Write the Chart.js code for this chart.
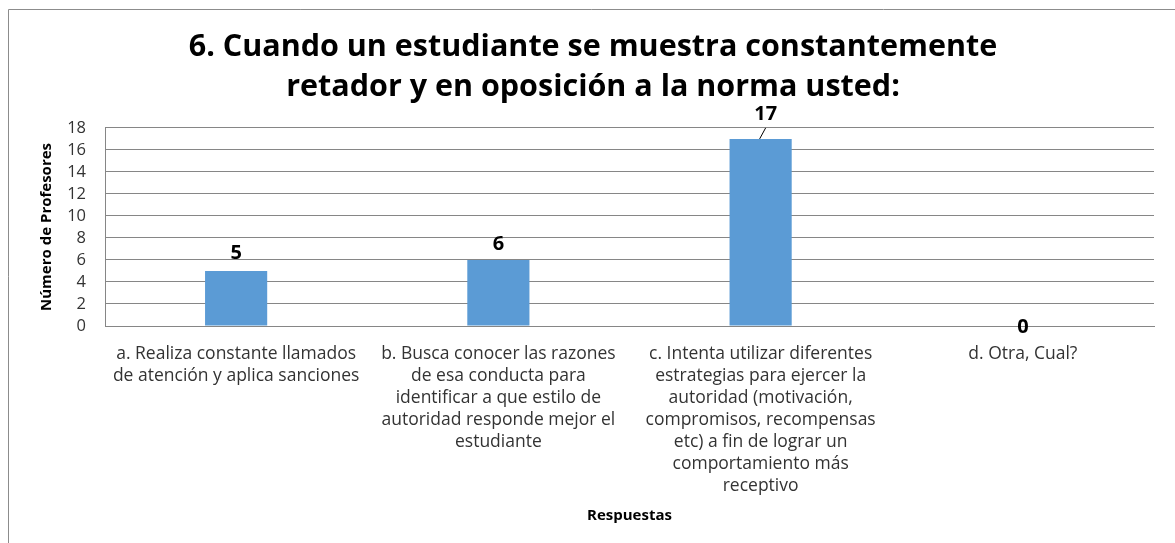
<!DOCTYPE html>
<html>
<head>
<meta charset="utf-8">
<script src="https://cdn.jsdelivr.net/npm/chart.js@4.4.1/dist/chart.umd.min.js"></script>
<style>
  html, body { margin: 0; padding: 0; background: #fff; }
  #wrap { width: 1175px; height: 543px; }
</style>
</head>
<body>
<div id="wrap"><canvas id="chart" width="1175" height="543"></canvas></div>
<script>
// data
const categories = [
    ["a. Realiza constante llamados", "de atención y aplica sanciones"],
    ["b. Busca conocer las razones", "de esa conducta para", "identificar a que estilo de", "autoridad responde mejor el", "estudiante"],
    ["c. Intenta utilizar diferentes", "estrategias para ejercer la", "autoridad (motivación,", "compromisos, recompensas", "etc) a fin de lograr un", "comportamiento más", "receptivo"],
    ["d. Otra, Cual?"],
];
const profesores = [5, 6, 17, 0];
const yTicks = [0, 2, 4, 6, 8, 10, 12, 14, 16, 18];

const titleLines = ["6. Cuando un estudiante se muestra constantemente", "retador y en oposición a la norma usted:"];
const xTitle = "Respuestas";
const yTitle = "Número de Profesores";

const FONT = "'Open Sans', sans-serif";

// frame round the chart object, only top and left edges are visible
const framePlugin = {
    id: "frame",
    beforeDraw(chart) {
        const ctx = chart.ctx;
        ctx.save();
        ctx.strokeStyle = "#8c8c8c";
        ctx.lineWidth = 1;
        ctx.beginPath();
        ctx.moveTo(8.5, 543);
        ctx.lineTo(8.5, 9.5);
        ctx.lineTo(1175, 9.5);
        ctx.stroke();
        ctx.restore();
    },
};

// value labels above the bars (the 17 was dragged up, with a leader line)
const valueLabels = {
    id: "valueLabels",
    afterDatasetsDraw(chart, args, opts) {
        const ctx = chart.ctx;
        const meta = chart.getDatasetMeta(0);
        ctx.save();
        ctx.font = "bold 20px " + FONT;
        ctx.fillStyle = "#000";
        ctx.textAlign = "center";
        ctx.textBaseline = "middle";
        meta.data.forEach((bar, i) => {
            const v = chart.data.datasets[0].data[i];
            const shift = opts.shift[i] || [0, -18];
            const lx = bar.x + shift[0];
            const ly = bar.y + shift[1];
            ctx.fillText(String(v), lx, ly);
            if (opts.leader[i]) {
                ctx.strokeStyle = "#000";
                ctx.lineWidth = 1;
                ctx.beginPath();
                ctx.moveTo(bar.x - 1, bar.y);
                ctx.lineTo(lx, ly + 14);
                ctx.stroke();
            }
        });
        ctx.restore();
    },
};

new Chart(document.getElementById("chart"), {
    type: "bar",
    data: {
        labels: categories,
        datasets: [{
            data: profesores,
            backgroundColor: "#5B9BD5",
            borderWidth: 0,
            categoryPercentage: 1,
            barPercentage: 0.237,
        }],
    },
    options: {
        responsive: false,
        animation: false,
        layout: { padding: { left: 32, right: 21, top: 0, bottom: 0 } },
        plugins: {
            legend: { display: false },
            tooltip: { enabled: false },
            title: {
                display: true,
                text: titleLines,
                color: "#000",
                font: { family: FONT, size: 30.5, weight: "bold", lineHeight: 1.31 },
                padding: { top: 27, bottom: 21 },
            },
            valueLabels: {
                shift: { 1: [0, -16], 2: [5, -25], 3: [0, 1] },
                leader: { 2: true },
            },
        },
        scales: {
            x: {
                grid: { display: false },
                border: { display: true, color: "#868686" },
                ticks: {
                    autoSkip: false,
                    maxRotation: 0,
                    color: "#333333",
                    padding: 9,
                    font: { family: FONT, size: 17.5, lineHeight: 1.257 },
                },
                title: {
                    display: true,
                    text: xTitle,
                    color: "#000",
                    font: { family: FONT, size: 15, weight: "bold", lineHeight: 1.2 },
                    padding: { top: 0, bottom: 18 },
                },
                afterFit(scale) { scale.height = 543 - 326; },
            },
            y: {
                min: 0,
                max: 18,
                afterBuildTicks(scale) { scale.ticks = yTicks.map(v => ({ value: v })); },
                grid: { color: "#868686", drawTicks: false },
                border: { display: true, color: "#868686" },
                ticks: {
                    autoSkip: false,
                    color: "#333333",
                    padding: 19,
                    font: { family: FONT, size: 16.5 },
                },
                title: {
                    display: true,
                    text: yTitle,
                    color: "#000",
                    font: { family: FONT, size: 15, weight: "bold", lineHeight: 1.2 },
                    padding: { top: 6, bottom: 0 },
                },
                afterFit(scale) { scale.width = 105 - 32; },
            },
        },
    },
    plugins: [framePlugin, valueLabels],
});
</script>
</body>
</html>
